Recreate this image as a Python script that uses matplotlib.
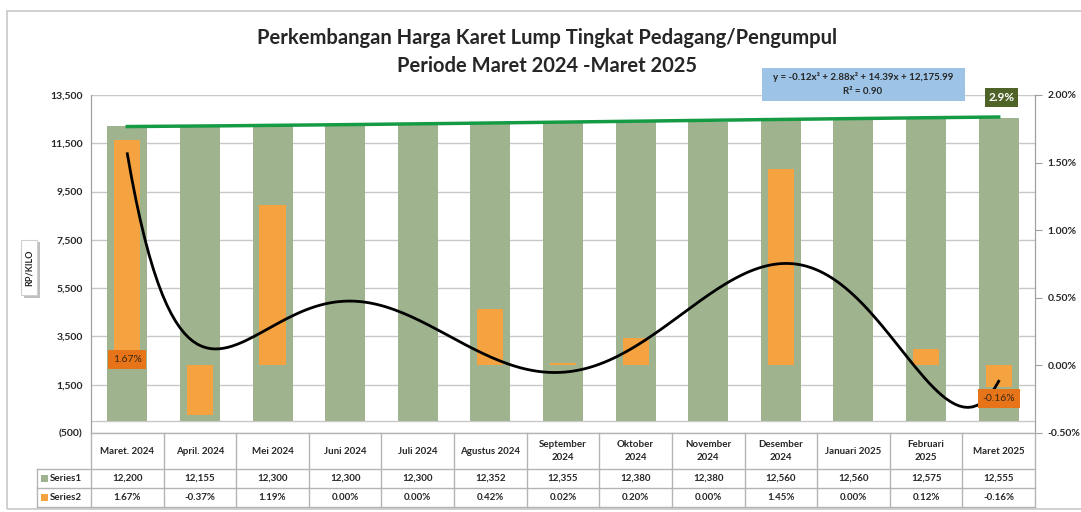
import numpy as np
import matplotlib
matplotlib.use("Agg")
import matplotlib.pyplot as plt
from matplotlib.patches import Rectangle
from matplotlib.transforms import blended_transform_factory

plt.rcParams['font.family'] = ['Lato', 'DejaVu Sans']

categories = ["Maret. 2024", "April. 2024", "Mei 2024", "Juni 2024", "Juli 2024",
              "Agustus 2024", "September\n2024", "Oktober\n2024", "November\n2024",
              "Desember\n2024", "Januari 2025", "Februari\n2025", "Maret 2025"]
series1 = [12200, 12155, 12300, 12300, 12300, 12352, 12355, 12380, 12380, 12560, 12560, 12575, 12555]
series2 = [1.67, -0.37, 1.19, 0.00, 0.00, 0.42, 0.02, 0.20, 0.00, 1.45, 0.00, 0.12, -0.16]
series1_labels = ["12,200", "12,155", "12,300", "12,300", "12,300", "12,352", "12,355",
                  "12,380", "12,380", "12,560", "12,560", "12,575", "12,555"]
series2_labels = ["1.67%", "-0.37%", "1.19%", "0.00%", "0.00%", "0.42%", "0.02%",
                  "0.20%", "0.00%", "1.45%", "0.00%", "0.12%", "-0.16%"]
left_ticks = [-500, 1500, 3500, 5500, 7500, 9500, 11500, 13500]
right_ticks = [-0.5, 0.0, 0.5, 1.0, 1.5, 2.0]
title_lines = ["Perkembangan Harga Karet Lump Tingkat Pedagang/Pengumpul",
               "Periode Maret 2024 -Maret 2025"]
equation_text = "y = -0.12x³ + 2.88x² + 14.39x + 12,175.99"
r2_text = "R² = 0.90"
change_text = "2.9%"

W, H = 1081, 512
fig = plt.figure(figsize=(W / 100, H / 100), dpi=100)

def fx(px):
    return px / W

def fy(py):
    return 1 - py / H

GREEN = '#9FB38E'
ORANGE = '#F4A340'
GRID = '#C8C8C8'
TXT = '#262626'

# outer border
fig.add_artist(Rectangle((fx(7), fy(509)), fx(1081) - fx(7) + 0.01, fy(11) - fy(509),
                         transform=fig.transFigure, fill=False, edgecolor='#C8C8C8', lw=1.2))

ax_l, ax_r, ax_t, ax_b = 91, 1035, 95, 433
ax = fig.add_axes([fx(ax_l), fy(ax_b), fx(ax_r) - fx(ax_l), fy(ax_t) - fy(ax_b)])
ax2 = ax.twinx()

n = len(categories)
x = np.arange(n)
ax.bar(x, series1, width=0.55, color=GREEN, zorder=2)
ax.set_ylim(-500, 13500)
ax.set_xlim(-0.5, n - 0.5)
ax.set_yticks(left_ticks)
ax.set_yticklabels([f"({abs(v):,})" if v < 0 else f"{v:,}" for v in left_ticks],
                   fontsize=7.5, fontweight='bold', color=TXT)
ax.yaxis.grid(True, color=GRID, lw=1)
ax.set_axisbelow(True)
ax.set_xticks([])
ax.tick_params(axis='y', length=0, pad=6)
ax.axhline(0, color=GRID, lw=1, zorder=1)

# trendline on series1 (polynomial order 3)
coef = np.polyfit(x + 1, series1, 3)
xs = np.linspace(0, n - 1, 200)
ax.plot(xs, np.polyval(coef, xs + 1), color='#169B45', lw=2.5, zorder=5)

ax2.bar(x, series2, width=0.36, color=ORANGE, zorder=3)
ax2.set_ylim(-0.5, 2.0)
ax2.set_yticks(right_ticks)
ax2.set_yticklabels([f"{v:.2f}%" for v in right_ticks], fontsize=7.5, fontweight='bold', color=TXT)
ax2.tick_params(axis='y', length=5, color='#A0A0A0', pad=4)
coef2 = np.polyfit(x + 1, series2, 6)
ax2.plot(xs, np.polyval(coef2, xs + 1), color='black', lw=2, zorder=6)

for a in (ax, ax2):
    for s in ('top', 'bottom'):
        a.spines[s].set_visible(False)
    a.spines['left'].set_color('#A0A0A0')
    a.spines['right'].set_color('#A0A0A0')

# data labels
lab_color = '#E8741A'
ax2.text(0, 0.045, series2_labels[0], ha='center', va='center', fontsize=7.5, color='#3A2A10', zorder=8,
         bbox=dict(boxstyle='square,pad=0.45', fc=lab_color, ec='none'))
ax2.text(n - 1, -0.245, series2_labels[-1], ha='center', va='center', fontsize=7.5, color='#3A2A10', zorder=8,
         bbox=dict(boxstyle='square,pad=0.45', fc=lab_color, ec='none'))

# title
fig.text(fx(547), fy(38), title_lines[0], ha='center', va='center', fontsize=14.5, fontweight='bold', color=TXT)
fig.text(fx(547), fy(66), title_lines[1], ha='center', va='center', fontsize=14.5, fontweight='bold', color=TXT)

# equation box
fig.add_artist(Rectangle((fx(762), fy(101)), fx(965) - fx(762), fy(68) - fy(101),
                         transform=fig.transFigure, fc='#9DC3E6', ec='none', zorder=10))
fig.text(fx(863), fy(77), equation_text, ha='center', va='center', fontsize=7, fontweight='bold', color=TXT, zorder=11)
fig.text(fx(863), fy(91), r2_text, ha='center', va='center', fontsize=7, fontweight='bold', color=TXT, zorder=11)

# 2.9% box
fig.add_artist(Rectangle((fx(985), fy(107)), fx(1018) - fx(985), fy(88) - fy(107),
                         transform=fig.transFigure, fc='#4F6228', ec='none', zorder=10))
fig.text(fx(1001.5), fy(97.5), change_text, ha='center', va='center', fontsize=8.5, fontweight='bold', color='white', zorder=11)

# RP/KILO label
fig.add_artist(Rectangle((fx(24), fy(298)), fx(40) - fx(24), fy(242) - fy(298),
                         transform=fig.transFigure, fc='#BFBFBF', ec='none', zorder=9))
fig.add_artist(Rectangle((fx(21), fy(295)), fx(37) - fx(21), fy(240) - fy(295),
                         transform=fig.transFigure, fc='white', ec='#D0D0D0', lw=0.8, zorder=10))
fig.text(fx(29), fy(268), "RP/KILO", rotation=90, ha='center', va='center', fontsize=6.5,
         fontweight='bold', color=TXT, zorder=11)

# data table
tr = blended_transform_factory(ax.transData, fig.transFigure)
tcol = '#B4B4B4'
y_top, y_h, y_r1, y_r2 = 433, 469, 488, 507
for yy, x0 in ((y_top, None), (y_h, 37), (y_r1, 37), (y_r2, 37)):
    if x0 is None:
        fig.add_artist(plt.Line2D([fx(ax_l), fx(ax_r)], [fy(yy), fy(yy)], transform=fig.transFigure, color=tcol, lw=1))
    else:
        fig.add_artist(plt.Line2D([fx(x0), fx(ax_r)], [fy(yy), fy(yy)], transform=fig.transFigure, color=tcol, lw=1))
for b in np.arange(n + 1) - 0.5:
    fig.add_artist(plt.Line2D([b, b], [fy(y_top), fy(y_r2)], transform=tr, color=tcol, lw=1))
fig.add_artist(plt.Line2D([fx(37), fx(37)], [fy(y_h), fy(y_r2)], transform=fig.transFigure, color=tcol, lw=1))

for i in range(n):
    fig.text(i, fy((y_top + y_h) / 2), categories[i], transform=tr, ha='center', va='center',
             fontsize=7, fontweight='bold', color=TXT, linespacing=1.45)
    fig.text(i, fy((y_h + y_r1) / 2), series1_labels[i], transform=tr, ha='center', va='center',
             fontsize=7, fontweight='bold', color=TXT)
    fig.text(i, fy((y_r1 + y_r2) / 2), series2_labels[i], transform=tr, ha='center', va='center',
             fontsize=7, fontweight='bold', color=TXT)

for yy0, yy1, col, name in ((y_h, y_r1, GREEN, "Series1"), (y_r1, y_r2, ORANGE, "Series2")):
    yc = (yy0 + yy1) / 2
    fig.add_artist(Rectangle((fx(41), fy(yc + 3.5)), fx(48) - fx(41), fy(yc - 3.5) - fy(yc + 3.5),
                             transform=fig.transFigure, fc=col, ec='none'))
    fig.text(fx(50), fy(yc), name, ha='left', va='center', fontsize=7, fontweight='bold', color=TXT)

fig.savefig("out.png", dpi=100)
